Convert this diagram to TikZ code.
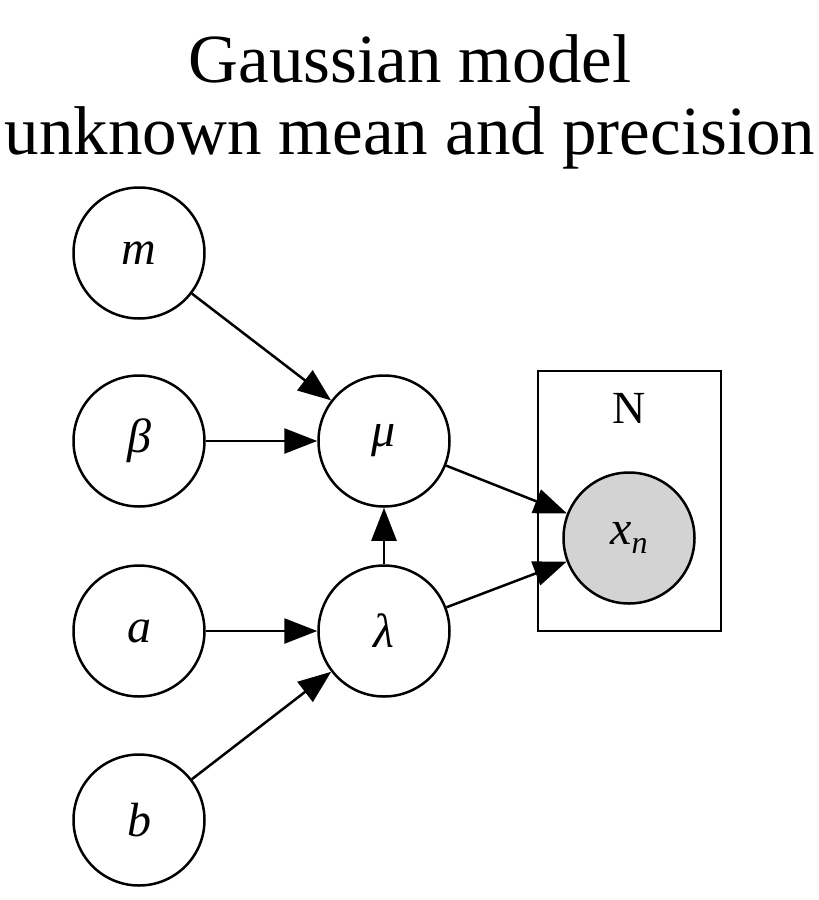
\documentclass[tikz,border=0pt]{standalone}
\usepackage{fontspec}
\setmainfont{Liberation Serif}
\usetikzlibrary{arrows.meta}
\definecolor{obsgray}{HTML}{D3D3D3}
\begin{document}
\begin{tikzpicture}[x=1pt,y=-1pt]
			\tikzstyle{every node}+=[inner sep=0pt]
			\tikzstyle{var}=[draw=black,circle,line width=2.5pt,minimum size=131pt,font=\fontsize{48}{48}\selectfont\itshape]
			\tikzstyle{obs}=[var,fill=obsgray]
			\tikzstyle{edge}=[black,line width=2.5pt,-{Triangle[length=33pt,width=25pt]}]
			\useasboundingbox (0,0) rectangle (819,900);
			\node (title1) at (410,82) [anchor=base,font=\fontsize{69}{72}\selectfont] {Gaussian model};
			\node (title2) at (410,154) [anchor=base,font=\fontsize{69}{72}\selectfont] {unknown mean and precision};
			\node (plate) at (629.5,501) [draw=black,line width=2.5pt,minimum width=183pt,minimum height=260pt] {};
			\node (platelabel) at (629,423) [anchor=base,font=\fontsize{46}{46}\selectfont] {N};
			\node [var] (m) at (139,253) {m};
			\node [var] (beta) at (139,441) {β};
			\node [var] (a) at (139,631) {a};
			\node [var] (b) at (139,820) {b};
			\node [var] (mu) at (384,441) {μ};
			\node [var] (lambda) at (384,631) {λ};
			\node [obs] (x) at (629,538) {x\raisebox{-0.18em}{\fontsize{32}{32}\selectfont n}};
			\draw [edge] (m) -- (mu);
			\draw [edge] (beta) -- (mu);
			\draw [edge] (a) -- (lambda);
			\draw [edge] (b) -- (lambda);
			\draw [edge] (lambda) -- (mu);
			\draw [edge] (mu) -- (x);
			\draw [edge] (lambda) -- (x);
\end{tikzpicture}
\end{document}
